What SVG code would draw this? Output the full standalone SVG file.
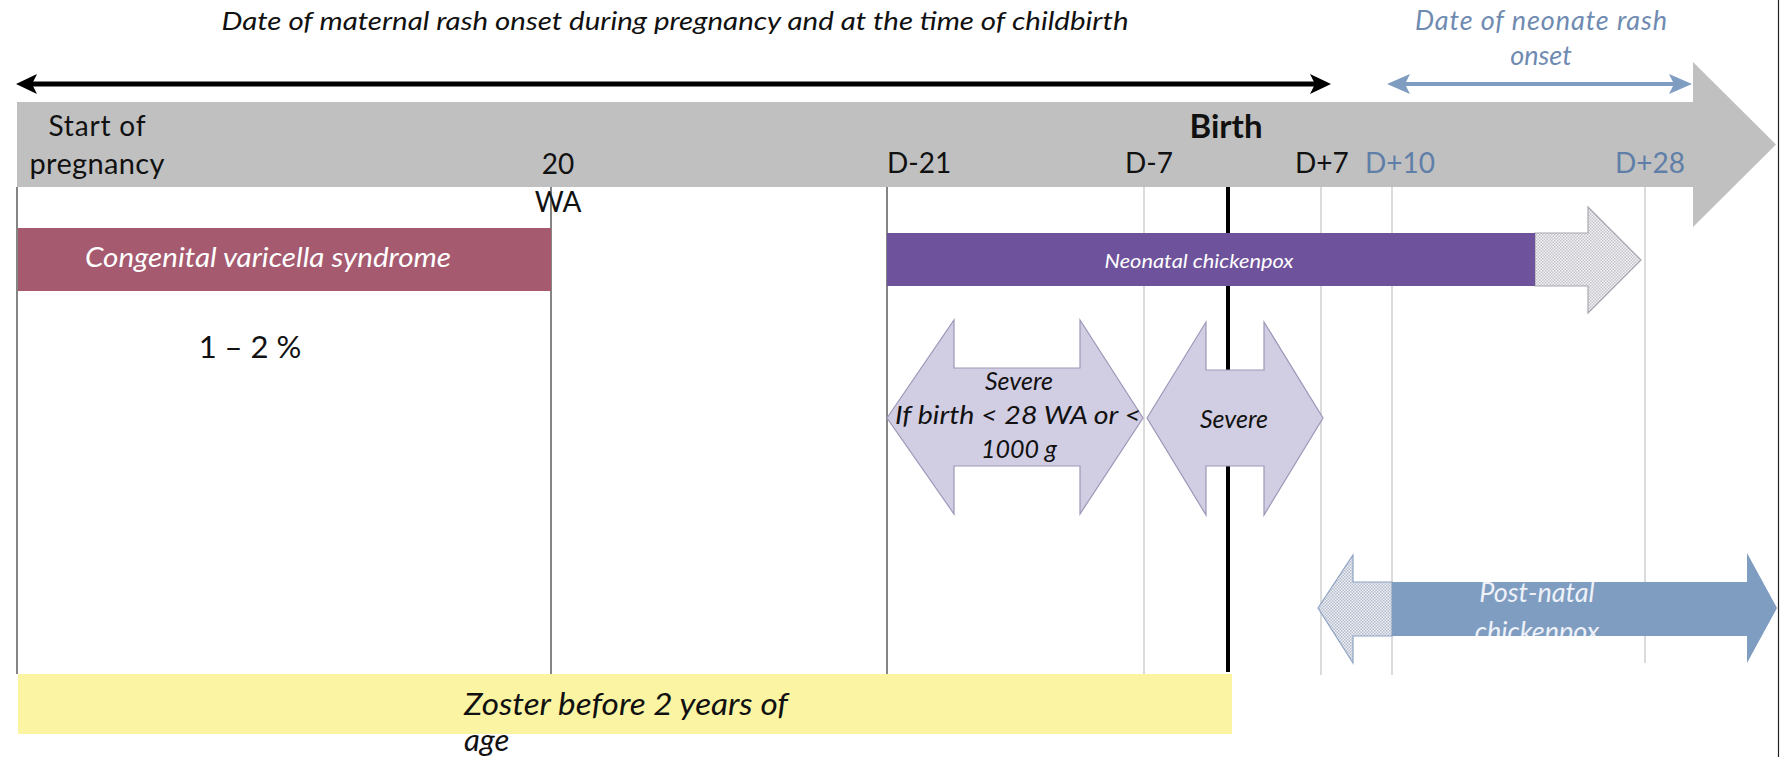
<svg xmlns="http://www.w3.org/2000/svg" width="1785" height="757" viewBox="0 0 1785 757">
<style>
text{font-family:Lato,"Liberation Sans",sans-serif}
.it{font-style:italic}
.lbl{font-size:28px;fill:#111}
.blue{fill:#5f7ea8}
.vdark{stroke:#333;stroke-width:1.2}
.vlight{stroke:#cfcfcf;stroke-width:1.5}
.lav{fill:#d1cde3;stroke:#9d97b8;stroke-width:1.2}
</style>
<defs>
<pattern id="hatch" width="3" height="3" patternUnits="userSpaceOnUse">
<rect width="3" height="3" fill="#f3f3f5"/><rect width="1.5" height="1.5" fill="#c4c4cc"/><rect x="1.5" y="1.5" width="1.5" height="1.5" fill="#c4c4cc"/>
</pattern>
<pattern id="hatchb" width="3" height="3" patternUnits="userSpaceOnUse">
<rect width="3" height="3" fill="#eef0f5"/><rect width="1.5" height="1.5" fill="#b5bdcc"/><rect x="1.5" y="1.5" width="1.5" height="1.5" fill="#b5bdcc"/>
</pattern>
<clipPath id="pnclip"><rect x="1392" y="582" width="355" height="54"/></clipPath>
</defs>
<rect width="1785" height="757" fill="#fff"/>

<g id="timeline">
<path d="M17,102 H1693 V62 L1776,144.5 L1693,227 V187 H17 Z" fill="#c0c0c0"/>
<text class="lbl" x="97" y="136" text-anchor="middle" font-size="29" textLength="97">Start of</text>
<text class="lbl" x="97" y="174" text-anchor="middle" style="font-size:29px" textLength="135">pregnancy</text>
<text class="lbl" x="558" y="174" text-anchor="middle">20</text>
<text class="lbl" x="558" y="212" text-anchor="middle">WA</text>
<text x="1226" y="138" text-anchor="middle" font-size="33" font-weight="bold" fill="#111">Birth</text>
<text class="lbl" x="887" y="173">D-21</text>
<text class="lbl" x="1125" y="173">D-7</text>
<text class="lbl" x="1295" y="173">D+7</text>
<text class="lbl blue" x="1365" y="173">D+10</text>
<text class="lbl blue" x="1615" y="173">D+28</text>
</g>

<g id="gridlines">
<line class="vdark" x1="17" y1="187" x2="17" y2="674"/>
<line class="vdark" x1="551" y1="187" x2="551" y2="674"/>
<line class="vdark" x1="887" y1="187" x2="887" y2="674"/>
<line class="vlight" x1="1144" y1="187" x2="1144" y2="674"/>
<line x1="1228" y1="187" x2="1228" y2="672" stroke="#000" stroke-width="4"/>
<line class="vlight" x1="1321" y1="187" x2="1321" y2="675"/>
<line class="vlight" x1="1392" y1="187" x2="1392" y2="675"/>
<line class="vlight" x1="1645" y1="187" x2="1645" y2="663"/>
<line x1="1778.5" y1="0" x2="1778.5" y2="757" stroke="#222" stroke-width="1.2"/>
</g>

<g id="connectors">
<line x1="30" y1="84" x2="1318" y2="84" stroke="#000" stroke-width="5"/>
<path d="M16,84 L37,74 L32,84 L37,94 Z" fill="#000"/>
<path d="M1331,84 L1310,74 L1315,84 L1310,94 Z" fill="#000"/>
<line x1="1400" y1="84" x2="1680" y2="84" stroke="#7f9cc1" stroke-width="4"/>
<path d="M1387,84 L1410,74 L1405,84 L1410,94 Z" fill="#7f9cc1"/>
<path d="M1692,84 L1669,74 L1674,84 L1669,94 Z" fill="#7f9cc1"/>
</g>

<g id="title">
<text class="it" x="675" y="30" text-anchor="middle" font-size="25" fill="#111" textLength="907" lengthAdjust="spacingAndGlyphs">Date of maternal rash onset during pregnancy and at the time of childbirth</text>
</g>
<g id="neonate-title">
<text class="it" x="1541" y="30" text-anchor="middle" font-size="27" fill="#6f8bb1" textLength="252">Date of neonate rash</text>
<text class="it" x="1541" y="65" text-anchor="middle" font-size="27" fill="#6f8bb1">onset</text>
</g>

<g id="congenital">
<rect x="18" y="228" width="533" height="63" fill="#a55a70"/>
<text class="it" x="268" y="267" text-anchor="middle" font-size="27" fill="#fff" textLength="366" lengthAdjust="spacingAndGlyphs">Congenital varicella syndrome</text>
</g>

<g id="percent">
<text x="250" y="358" text-anchor="middle" font-size="31" fill="#111">1 – 2 %</text>
</g>

<g id="neonatal">
<path d="M1535,233 H1588 V207 L1641,260 L1588,313 V286 H1535 Z" fill="url(#hatch)" stroke="#a8a8b0" stroke-width="1.2"/>
<rect x="887" y="233" width="648" height="53" fill="#6e529b"/>
<text class="it" x="1199" y="268" text-anchor="middle" font-size="19" fill="#fff" textLength="189" lengthAdjust="spacingAndGlyphs">Neonatal chickenpox</text>
</g>

<g id="severe1">
<path class="lav" d="M887,418 L954,320 V368 H1080 V320 L1143,418 L1080,514 V466 H954 V514 Z"/>
<text class="it" x="1019" y="390" text-anchor="middle" font-size="25" fill="#111">Severe</text>
<text class="it" x="1018" y="424" text-anchor="middle" font-size="26" fill="#111" textLength="246" lengthAdjust="spacingAndGlyphs">If birth &lt; 28 WA or &lt;</text>
<text class="it" x="1019" y="458" text-anchor="middle" font-size="25" fill="#111">1000 g</text>
</g>

<g id="severe2">
<path class="lav" d="M1147,418 L1206,322 V370 H1264 V322 L1323,418 L1264,515 V466 H1206 V515 Z"/>
<text class="it" x="1234" y="428" text-anchor="middle" font-size="25" fill="#111">Severe</text>
</g>

<g id="postnatal">
<path d="M1318,608 L1353,555 V582 H1392 V636 H1353 V663 Z" fill="url(#hatchb)" stroke="#8ea4c4" stroke-width="1.2"/>
<path d="M1392,582 H1747 V553 L1777,608 L1747,663 V636 H1392 Z" fill="#7f9cc1"/>
<g clip-path="url(#pnclip)">
<text class="it" x="1537" y="602" text-anchor="middle" font-size="27" fill="#eef2f8">Post-natal</text>
<text class="it" x="1537" y="641" text-anchor="middle" font-size="27" fill="#eef2f8">chickenpox</text>
</g>
</g>

<g id="zoster">
<rect x="18" y="674" width="1214" height="60" fill="#fbf5a3"/>
<text class="it" x="464" y="715" font-size="31" fill="#111" textLength="324" lengthAdjust="spacingAndGlyphs">Zoster before 2 years of</text>
<text class="it" x="464" y="751" font-size="31" fill="#111">age</text>
</g>
</svg>
